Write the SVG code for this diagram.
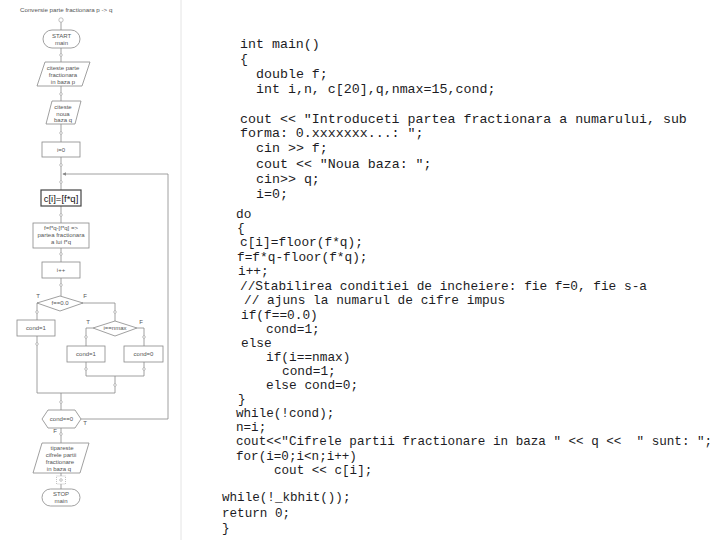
<svg xmlns="http://www.w3.org/2000/svg" width="720" height="540" viewBox="0 0 720 540">
<defs>
<style>
.fc{font-family:"Liberation Sans",Arial,sans-serif;font-size:6px;fill:#555;text-anchor:middle}
.box{fill:#fff;stroke:#888;stroke-width:0.8}
.ln{fill:none;stroke:#888;stroke-width:0.8}
.dot{fill:#fff;stroke:#999;stroke-width:0.6}
.code{font-family:"Liberation Mono","Courier New",monospace;fill:#1c1c24;white-space:pre}
.up{font-size:13.3px}
.mid{font-size:12.8px}
.low{font-size:12.6px}
</style>
<marker id="arr" viewBox="0 0 6 6" refX="5" refY="3" markerWidth="5" markerHeight="5" orient="auto"><path d="M0,0 L6,3 L0,6 z" fill="#888"/></marker>
</defs>
<rect width="720" height="540" fill="#fff"/>
<line x1="181" y1="0" x2="181" y2="540" stroke="#ddd" stroke-width="0.8"/>
<text x="20" y="12" class="fc" style="text-anchor:start;font-size:6.2px">Conversie parte fractionara p -&gt; q</text>

<g id="connectors">
<line class="ln" x1="61" y1="22" x2="61" y2="296"/>
<polyline class="ln" points="38,303 37,303 37,393 115,393"/>
<polyline class="ln" points="82,303 115,303 115,321"/>
<polyline class="ln" points="93,328 86,328 86,376 144,376 144,328 137,328"/>
<line class="ln" x1="115" y1="376" x2="115" y2="393"/>
<line class="ln" x1="61" y1="393" x2="61" y2="489"/>
<polyline class="ln" points="81,419 168,419 168,174 63,174" marker-end="url(#arr)"/>
</g>

<g id="start"><circle class="dot" cx="61" cy="20" r="2.2"/><rect class="box" x="43" y="30" width="37" height="18" rx="9"/><text class="fc" x="61.5" y="38">START</text><text class="fc" x="61.5" y="45">main</text></g>
<g id="read_p"><polygon class="box" points="45,62 90,62 82,86 37,86"/><text class="fc" x="63" y="70">citeste parte</text><text class="fc" x="63" y="77">fractionara</text><text class="fc" x="63" y="84">in baza p</text></g>
<g id="read_q"><polygon class="box" points="52,101 81,101 75,124 46,124"/><text class="fc" x="63" y="109">citeste</text><text class="fc" x="63" y="116">noua</text><text class="fc" x="63" y="122">baza q</text></g>
<g id="i0"><rect class="box" x="42" y="142" width="38" height="15"/><text class="fc" x="61" y="152">i=0</text></g>
<g id="ci"><rect class="box" x="41" y="190" width="40" height="16" style="stroke:#444;stroke-width:1.2"/><text class="fc" x="61" y="201.5" style="font-size:9.5px;fill:#111">c[i]=[f*q]</text></g>
<g id="ff"><rect class="box" x="33" y="223" width="56" height="25"/><text class="fc" x="61" y="230">f=f*q-[f*q] =&gt;</text><text class="fc" x="61" y="237">partea fractionara</text><text class="fc" x="61" y="244">a lui f*q</text></g>
<g id="inc"><rect class="box" x="42" y="262" width="38" height="16"/><text class="fc" x="61" y="272">i++</text></g>
<g id="d1"><polygon class="box" points="37,303 60,296 83,303 60,311"/><text class="fc" x="60" y="305">f==0.0</text><text class="fc" x="38" y="298">T</text><text class="fc" x="85" y="298">F</text></g>
<g id="c1a"><rect class="box" x="17" y="320" width="38" height="16"/><text class="fc" x="36" y="330">cond=1</text></g>
<g id="d2"><polygon class="box" points="93,328 115,321 137,328 115,336"/><text class="fc" x="115" y="330">i==nmax</text><text class="fc" x="88" y="324">T</text><text class="fc" x="141" y="324">F</text></g>
<g id="c1b"><rect class="box" x="67" y="346" width="38" height="16"/><text class="fc" x="86" y="356">cond=1</text></g>
<g id="c0"><rect class="box" x="124" y="346" width="39" height="16"/><text class="fc" x="143.5" y="356">cond=0</text></g>
<g id="d3"><polygon class="box" points="42,419 48,410 75,410 81,419 75,428 48,428"/><text class="fc" x="61.5" y="421">cond==0</text><text class="fc" x="85" y="425">T</text><text class="fc" x="55" y="433">F</text></g>
<g id="print"><polygon class="box" points="42,443 89,443 80,473 33,473"/><text class="fc" x="62" y="450">tipareste</text><text class="fc" x="61" y="457">cifrele partii</text><text class="fc" x="60" y="464">fractionare</text><text class="fc" x="59" y="471">in baza q</text></g>
<g id="stop"><rect x="56.5" y="476" width="9" height="8" fill="#fff" stroke="#999" stroke-width="0.6" stroke-dasharray="1,1"/><rect class="box" x="42" y="489" width="38" height="17" rx="8.5"/><text class="fc" x="61" y="496">STOP</text><text class="fc" x="61" y="503">main</text></g>

<g id="dots">
<circle class="dot" cx="61" cy="55" r="1.3"/><circle class="dot" cx="61" cy="94" r="1.3"/><circle class="dot" cx="61" cy="133" r="1.3"/><circle class="dot" cx="61" cy="165" r="1.3"/><circle class="dot" cx="61" cy="182" r="1.3"/><circle class="dot" cx="61" cy="215" r="1.3"/><circle class="dot" cx="61" cy="254" r="1.3"/><circle class="dot" cx="61" cy="285" r="1.3"/>
<circle class="dot" cx="37" cy="312" r="1.3"/><circle class="dot" cx="37" cy="344" r="1.3"/><circle class="dot" cx="115" cy="312" r="1.3"/>
<circle class="dot" cx="86" cy="337" r="1.3"/><circle class="dot" cx="144" cy="337" r="1.3"/><circle class="dot" cx="86" cy="369" r="1.3"/><circle class="dot" cx="144" cy="369" r="1.3"/><circle class="dot" cx="115" cy="385" r="1.3"/>
<circle class="dot" cx="61" cy="402" r="1.3"/><circle class="dot" cx="61" cy="434" r="1.3"/><circle class="dot" cx="61" cy="480" r="1.3"/>
</g>

<g id="code">
<text class="code up" x="240" y="48">int main()</text>
<text class="code up" x="240" y="63">{</text>
<text class="code up" x="256" y="78">double f;</text>
<text class="code up" x="256" y="93">int i,n, c[20],q,nmax=15,cond;</text>
<text class="code up" x="240" y="123">cout &lt;&lt; "Introduceti partea fractionara a numarului, sub</text>
<text class="code up" x="240" y="137">forma: 0.xxxxxxx...: ";</text>
<text class="code up" x="256" y="152">cin &gt;&gt; f;</text>
<text class="code up" x="256" y="168">cout &lt;&lt; "Noua baza: ";</text>
<text class="code up" x="256" y="183">cin&gt;&gt; q;</text>
<text class="code up" x="256" y="198">i=0;</text>
<text class="code mid" x="236" y="218">do</text>
<text class="code mid" x="237" y="232">{</text>
<text class="code mid" x="240" y="246">c[i]=floor(f*q);</text>
<text class="code mid" x="237" y="261">f=f*q-floor(f*q);</text>
<text class="code mid" x="238" y="275">i++;</text>
<text class="code mid" x="240" y="290">//Stabilirea conditiei de incheiere: fie f=0, fie s-a</text>
<text class="code mid" x="244" y="304">// ajuns la numarul de cifre impus</text>
<text class="code mid" x="241" y="319">if(f==0.0)</text>
<text class="code mid" x="266" y="333">cond=1;</text>
<text class="code mid" x="241" y="347">else</text>
<text class="code mid" x="266" y="361">if(i==nmax)</text>
<text class="code mid" x="282" y="375">cond=1;</text>
<text class="code mid" x="266" y="389">else cond=0;</text>
<text class="code low" x="238" y="403">}</text>
<text class="code low" x="236" y="417">while(!cond);</text>
<text class="code low" x="236" y="431">n=i;</text>
<text class="code low" x="236" y="445">cout&lt;&lt;"Cifrele partii fractionare in baza " &lt;&lt; q &lt;&lt;  " sunt: ";</text>
<text class="code low" x="236" y="460">for(i=0;i&lt;n;i++)</text>
<text class="code low" x="274" y="474">cout &lt;&lt; c[i];</text>
<text class="code low" x="222" y="501">while(!_kbhit());</text>
<text class="code low" x="222" y="517">return 0;</text>
<text class="code low" x="222" y="532">}</text>
</g>
</svg>
